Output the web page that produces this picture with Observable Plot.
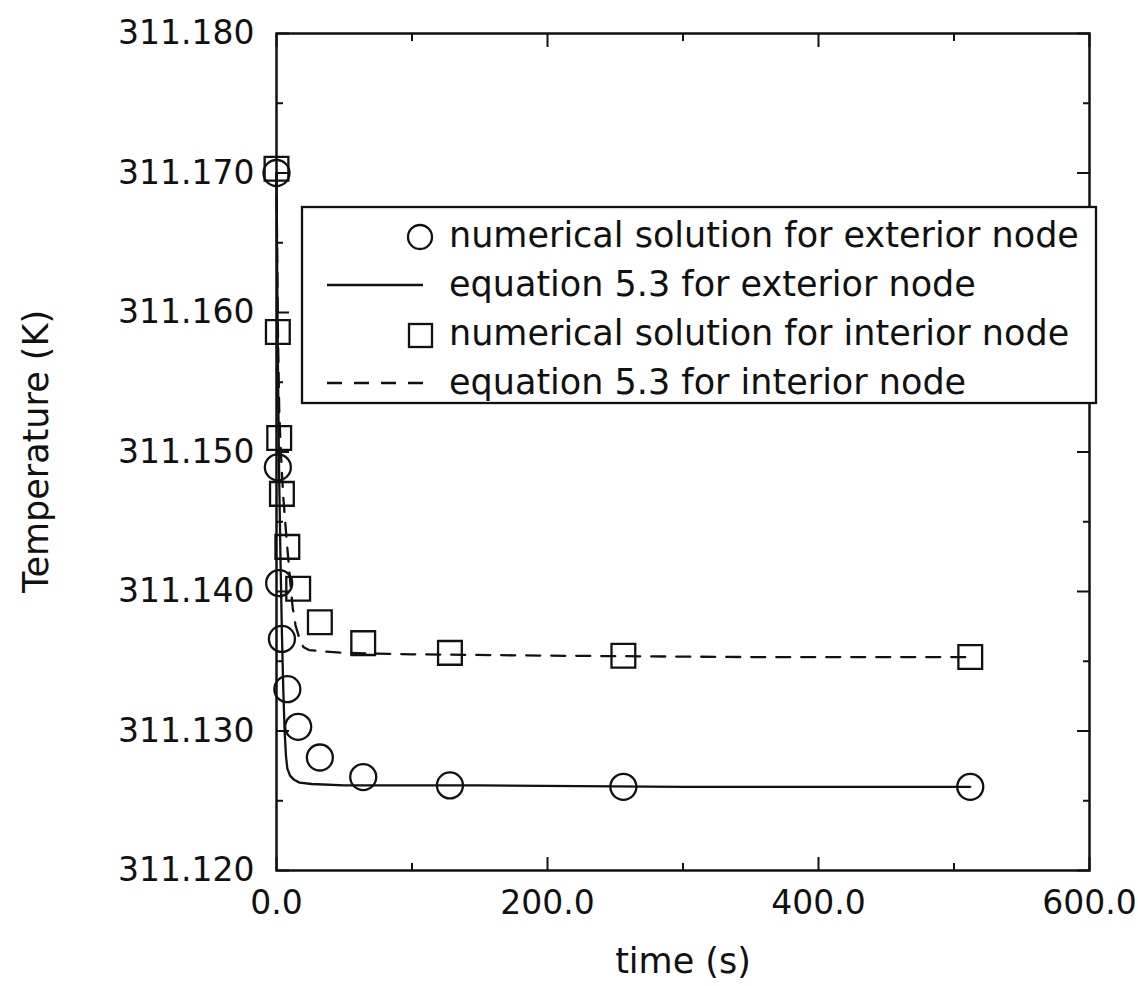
<!DOCTYPE html>
<html>
<head>
<meta charset="utf-8">
<script src="https://cdn.jsdelivr.net/npm/d3@7"></script>
<script src="https://cdn.jsdelivr.net/npm/@observablehq/plot@0.6"></script>
<style>
  html, body { margin: 0; padding: 0; background: #fff; }
  #chart { position: relative; width: 1138px; height: 986px; }
  #chart svg.overlay { position: absolute; left: 0; top: 0; pointer-events: none; }
</style>
</head>
<body>
<div id="chart"></div>
<script>
// Numerical solution, exterior node (circles)
const extTime = [0, 1, 2, 4, 8, 16, 32, 64, 128, 256, 512];
const extTemp = [311.1700, 311.1489, 311.1406, 311.1366, 311.1330, 311.1303, 311.1281, 311.1267, 311.1261, 311.1260, 311.1260];

// Numerical solution, interior node (squares)
const intTime = [0, 1, 2, 4, 8, 16, 32, 64, 128, 256, 512];
const intTemp = [311.1703, 311.1586, 311.1510, 311.1470, 311.1432, 311.1402, 311.1378, 311.1363, 311.1356, 311.1354, 311.1353];

// Equation 5.3, exterior node (solid curve)
const extEqTime = [0, 0.5, 1, 1.5, 2, 3, 4, 5, 6, 7, 8, 10, 13, 17, 26, 50, 150, 300, 512];
const extEqTemp = [311.1700, 311.1630, 311.1570, 311.1520, 311.1480, 311.1420, 311.1370, 311.1330, 311.1300, 311.1282, 311.1273, 311.1268, 311.1265, 311.1263, 311.1262, 311.1261, 311.1261, 311.1260, 311.1260];

// Equation 5.3, interior node (dashed curve)
const intEqTime = [0, 0.5, 1, 2, 3, 4, 5, 6, 7.5, 9, 10.5, 12, 14, 17, 20, 24, 35, 50, 100, 200, 350, 512];
const intEqTemp = [311.1700, 311.1640, 311.1590, 311.1530, 311.1505, 311.1485, 311.1468, 311.1455, 311.1437, 311.1420, 311.1403, 311.1388, 311.1376, 311.1366, 311.1360, 311.1358, 311.1357, 311.1356, 311.1355, 311.1354, 311.1353, 311.1353];

// Axis ticks
const xMajor = [0, 200, 400, 600];
const xMinor = [100, 300, 500];
const yMajor = [311.12, 311.13, 311.14, 311.15, 311.16, 311.17, 311.18];
const yMinor = [311.125, 311.135, 311.145, 311.155, 311.165, 311.175];

// Titles and legend entries
const xTitle = "time (s)";
const yTitle = "Temperature (K)";
const legendLabels = [
  "numerical solution for exterior node",
  "equation 5.3 for exterior node",
  "numerical solution for interior node",
  "equation 5.3 for interior node"
];
const legendKinds = ["circle", "solid", "square", "dashed"];

const W = 1138, H = 986;
const ink = "#111";
const font = "'DejaVu Sans', sans-serif";
const dash = "14,11";
const sw = 2.3;

const rows = (ts, vs) => ts.map((t, i) => ({t, T: vs[i]}));
const ext = rows(extTime, extTemp);
const int = rows(intTime, intTemp);
const extEq = rows(extEqTime, extEqTemp);
const intEq = rows(intEqTime, intEqTemp);

// inward tick marks on every side of the frame
const tickAxes = [];
for (const anchor of ["bottom", "top"]) {
  tickAxes.push(Plot.axisX({anchor, ticks: xMajor, tickSize: -13, strokeWidth: 2, stroke: ink, fill: "none", label: null}));
  tickAxes.push(Plot.axisX({anchor, ticks: xMinor, tickSize: -7, strokeWidth: 2, stroke: ink, fill: "none", label: null}));
}
for (const anchor of ["left", "right"]) {
  tickAxes.push(Plot.axisY({anchor, ticks: yMajor, tickSize: -13, strokeWidth: 2, stroke: ink, fill: "none", label: null}));
  tickAxes.push(Plot.axisY({anchor, ticks: yMinor, tickSize: -7, strokeWidth: 2, stroke: ink, fill: "none", label: null}));
}

const chart = Plot.plot({
  width: W,
  height: H,
  marginLeft: 276,
  marginRight: W - 1089,
  marginTop: 33,
  marginBottom: H - 870,
  style: {fontFamily: font, fontSize: "33px", color: ink, background: "#fff", overflow: "visible"},
  x: {domain: [0, 600], label: null},
  y: {domain: [311.12, 311.18], label: null},
  marks: [
    ...tickAxes,
    Plot.axisX({anchor: "bottom", ticks: xMajor, tickSize: 0, tickPadding: 20, tickFormat: d3.format(".1f"), fill: ink, stroke: "none", label: null}),
    Plot.axisY({anchor: "left", ticks: yMajor, tickSize: 0, tickPadding: 22, tickFormat: d3.format(".3f"), fill: ink, stroke: "none", label: null}),
    Plot.frame({stroke: ink, strokeWidth: 2.5}),
    Plot.line(extEq, {x: "t", y: "T", stroke: ink, strokeWidth: sw}),
    Plot.line(intEq, {x: "t", y: "T", stroke: ink, strokeWidth: sw, strokeDasharray: dash}),
    Plot.dot(ext, {x: "t", y: "T", r: 13, stroke: ink, strokeWidth: sw, fill: "none"}),
    Plot.dot(int, {x: "t", y: "T", r: 13.4, symbol: "square", stroke: ink, strokeWidth: sw, fill: "none"}),
    Plot.text([xTitle], {frameAnchor: "bottom", dy: 91, fontSize: 35, fill: ink, lineAnchor: "middle"})
  ]
});

const host = document.getElementById("chart");
host.appendChild(chart);

const svg = d3.select(host).append("svg")
  .attr("class", "overlay")
  .attr("width", W).attr("height", H);

// vertical axis title, centred on the plot frame
svg.append("text")
  .attr("transform", `translate(36,${(33 + 870) / 2}) rotate(-90)`)
  .attr("text-anchor", "middle")
  .attr("dominant-baseline", "central")
  .attr("font-family", font).attr("font-size", 35).attr("fill", ink)
  .text(yTitle);

// legend box drawn over the upper part of the plot area
const box = {x: 302, y: 207, w: 794, h: 196};
const rowBaseline0 = 247, rowStep = 49;
svg.append("rect")
  .attr("x", box.x).attr("y", box.y).attr("width", box.w).attr("height", box.h)
  .attr("fill", "#fff").attr("stroke", ink).attr("stroke-width", 2.3);
legendKinds.forEach((kind, i) => {
  const base = rowBaseline0 + i * rowStep;
  const cy = base - 10;
  const g = svg.append("g");
  if (kind === "circle") {
    g.append("circle").attr("cx", 420).attr("cy", cy).attr("r", 12)
      .attr("fill", "none").attr("stroke", ink).attr("stroke-width", sw);
  } else if (kind === "square") {
    g.append("rect").attr("x", 409).attr("y", cy - 11).attr("width", 23).attr("height", 23)
      .attr("fill", "none").attr("stroke", ink).attr("stroke-width", sw);
  } else {
    g.append("line").attr("x1", 327).attr("x2", 423).attr("y1", base - 11).attr("y2", base - 11)
      .attr("stroke", ink).attr("stroke-width", sw)
      .attr("stroke-dasharray", kind === "dashed" ? "15,12" : null);
  }
  g.append("text").attr("x", 449).attr("y", base)
    .attr("font-family", font).attr("font-size", 35).attr("fill", ink)
    .text(legendLabels[i]);
});
</script>
</body>
</html>
